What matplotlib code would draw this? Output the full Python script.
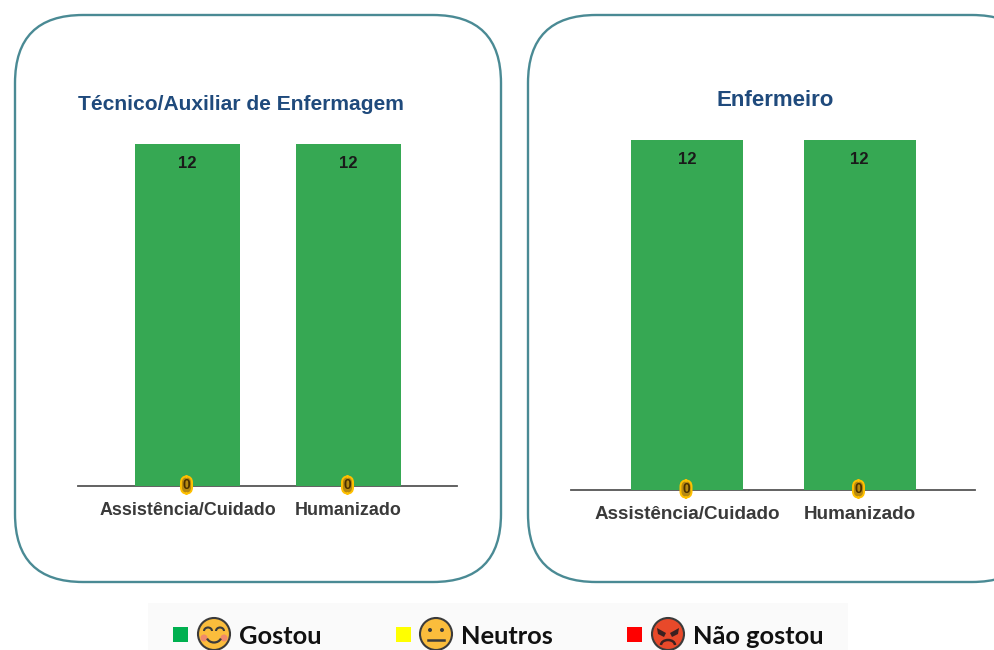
import matplotlib.pyplot as plt
from matplotlib.patches import Circle, FancyBboxPatch, Rectangle, Arc, Polygon

categories = ["Assistência/Cuidado", "Humanizado"]
titles = ["Técnico/Auxiliar de Enfermagem", "Enfermeiro"]
gostou_tecnico = [12, 12]
gostou_enfermeiro = [12, 12]
neutros_tecnico = [0, 0]
neutros_enfermeiro = [0, 0]
legend_labels = ["Gostou", "Neutros", "Não gostou"]
legend_colors = ["#00b050", "#ffff00", "#ff0000"]

GREEN = "#36a853"
W, H = 994, 650

plt.rcParams["font.family"] = ["Liberation Sans", "DejaVu Sans"]


def add_axes_px(fig, left, right, top, bottom):
    return fig.add_axes([left / W, 1 - bottom / H, (right - left) / W, (bottom - top) / H])


def draw_panel(fig, box, centers, values, zeros, bar_px, tick_size, title, title_xy, size):
    left, right, top, bottom = box
    ax = add_axes_px(fig, left, right, top, bottom)
    unit = centers[1] - centers[0]
    ax.patch.set_alpha(0)
    ax.bar(range(len(values)), values, width=bar_px / unit, color=GREEN, zorder=2)
    ax.set_xlim((left - centers[0]) / unit, (right - centers[0]) / unit)
    ax.set_ylim(0, 12)
    for s in ["top", "left", "right"]:
        ax.spines[s].set_visible(False)
    ax.spines["bottom"].set_color("#555555")
    ax.spines["bottom"].set_linewidth(1.3)
    ax.spines["bottom"].set_zorder(1)
    ax.set_yticks([])
    ax.set_xticks(range(len(categories)))
    ax.set_xticklabels(categories, fontsize=tick_size, fontweight="bold", color="#3a3a3a")
    ax.tick_params(axis="x", length=0, pad=11.5)
    for i, v in enumerate(values):
        ax.annotate(str(v), (i, v), xytext=(0, -20), textcoords="offset pixels",
                    ha="center", va="center", fontsize=12, fontweight="bold",
                    color="#1a1a1a", zorder=4)
    for i, z in enumerate(zeros):
        ax.annotate(str(z), (i, z), xytext=(-1, 1), textcoords="offset pixels",
                    ha="center", va="center", fontsize=10, fontweight="bold",
                    color="#4a3000", zorder=5, annotation_clip=False,
                    bbox=dict(boxstyle="round,pad=0.12,rounding_size=0.45",
                              fc="#b88a10", ec="#ffc000", lw=1.4))
    fig.text(title_xy[0] / W, 1 - title_xy[1] / H, title, ha="center", va="center",
             fontsize=size, fontweight="bold", color="#1f4a7c")


def face(ov, x, y, color, r=16):
    ov.add_patch(Circle((x, y), r, fc=color, ec="#3b3b3b", lw=1.5, zorder=3))


fig = plt.figure(figsize=(W / 100, H / 100), dpi=100, facecolor="white")

# overlay in pixel coords for the frames and the legend
ov = fig.add_axes([0, 0, 1, 1], zorder=0)
ov.set_xlim(0, W)
ov.set_ylim(H, 0)
ov.axis("off")

for x0, x1 in [(15, 501), (528, 1040)]:
    ov.add_patch(FancyBboxPatch((x0 + 68, 15 + 68), x1 - x0 - 136, 567 - 136,
                                boxstyle="round,pad=68,rounding_size=68",
                                fc="white", ec="#4a8a94", lw=1.7, clip_on=True))

draw_panel(fig, (78, 457, 144, 486), (187.5, 348.5), gostou_tecnico, neutros_tecnico,
           105, 12.9, titles[0], (241, 104), 15.1)
draw_panel(fig, (571, 975, 140, 490), (687, 859.5), gostou_enfermeiro, neutros_enfermeiro,
           112, 13.6, titles[1], (775, 100), 16)

# legend strip
ov.add_patch(Rectangle((148, 603), 700, 47, fc="#fafafa", ec="none", zorder=1))
swatch_x = [173, 396, 627]
face_x = [214, 436, 668]
text_x = [239, 461, 693]
face_colors = ["#fbbd3c", "#fbbd3c", "#e8492a"]
for sx, fx, tx, c, fc, lab in zip(swatch_x, face_x, text_x, legend_colors, face_colors, legend_labels):
    ov.add_patch(Rectangle((sx, 627), 15, 15, fc=c, ec="none", zorder=2))
    face(ov, fx, 634, fc)
    ov.text(tx, 636, lab, ha="left", va="center", fontsize=18.3, family="Lato",
            fontweight="bold", color="#111111", zorder=3)

# smiling face
x = face_x[0]
ov.add_patch(Arc((x - 6, 631), 8, 7, theta1=180, theta2=360, ec="#3b3b3b", lw=1.5, zorder=4))
ov.add_patch(Arc((x + 6, 631), 8, 7, theta1=180, theta2=360, ec="#3b3b3b", lw=1.5, zorder=4))
ov.add_patch(Arc((x, 636), 15, 13, theta1=20, theta2=160, ec="#3b3b3b", lw=1.6, zorder=4))
ov.add_patch(Circle((x - 10, 638), 3.5, fc="#f08a6a", ec="none", zorder=3.5))
ov.add_patch(Circle((x + 10, 638), 3.5, fc="#f08a6a", ec="none", zorder=3.5))

# neutral face
x = face_x[1]
ov.add_patch(Circle((x - 6, 630), 2, fc="#3b3b3b", ec="none", zorder=4))
ov.add_patch(Circle((x + 6, 630), 2, fc="#3b3b3b", ec="none", zorder=4))
ov.plot([x - 8, x + 8], [640, 640], color="#3b3b3b", lw=1.8, zorder=4)

# angry face
x = face_x[2]
ov.add_patch(Polygon([(x - 11, 628), (x - 2, 633), (x - 4, 637), (x - 10, 634)], fc="#3b2020", ec="none", zorder=4))
ov.add_patch(Polygon([(x + 11, 628), (x + 2, 633), (x + 4, 637), (x + 10, 634)], fc="#3b2020", ec="none", zorder=4))
ov.add_patch(Arc((x, 645), 14, 10, theta1=180, theta2=360, ec="#3b2020", lw=1.8, zorder=4))

fig.savefig("out.png", dpi=100)
